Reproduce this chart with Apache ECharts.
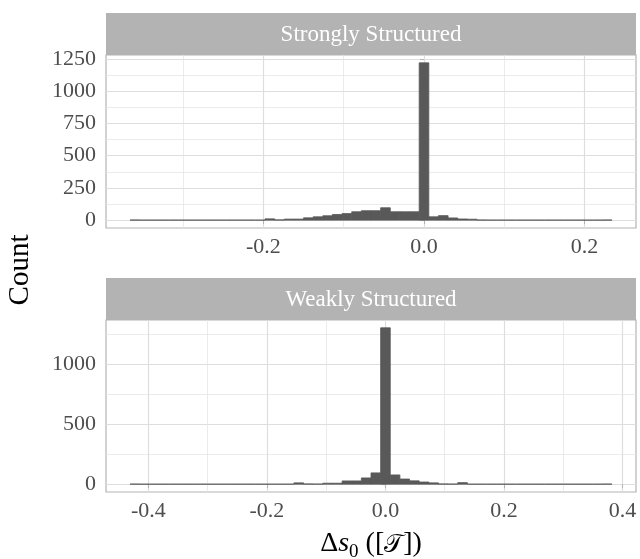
<!DOCTYPE html>
<html><head><meta charset="utf-8">
<script src="https://cdn.jsdelivr.net/npm/echarts@6/dist/echarts.min.js"></script>
<style>html,body{margin:0;padding:0;background:#fff;}#c{width:640px;height:559px;}</style>
</head><body><div id="c"></div>
<script>
// ---- data ----
const panelTitles = ['Strongly Structured', 'Weakly Structured'];
const yTitle = 'Count';

// Strongly structured: histogram bins (first bin centre, bin width, counts)
const strongFirstBin = -0.360;
const strongBinWidth = 0.0120;
const strongCounts = [1, 0,0,0,0,0,0,0,0,0,0,0,0,0,
  10,2,8,8,18,26,34,44,51,65,73,73,96,65,65,65,1219,26,35,17,9,7,1,
  0,0,0,0,0,0,0,0,0,0,0,0, 1];
const strongXTicks = [-0.2, 0.0, 0.2];
const strongXMinor = [-0.3, -0.1, 0.1];
const strongYTicks = [0, 250, 500, 750, 1000, 1250];
const strongYMinor = [125, 375, 625, 875, 1125];

// Weakly structured
const weakFirstBin = -0.42276;
const weakBinWidth = 0.01626;
const weakCounts = [1, 0,0,0,0,0,0,0,0,0,0,0,0,0,0,0,0,
  11,2,1,8,8,27,27,52,94,1303,77,43,28,18,11,2,1,13,
  0,0,0,0,0,0,0,0,0,0,0,0,0,0, 1];
const weakXTicks = [-0.4, -0.2, 0.0, 0.2, 0.4];
const weakXMinor = [-0.3, -0.1, 0.1, 0.3];
const weakYTicks = [0, 500, 1000];
const weakYMinor = [250, 750, 1250];

// ---- helpers ----
const FONT = '"Liberation Serif", "DejaVu Serif", serif';
const TICK_FS = 22;
function binData(first, w, counts) { return counts.map((c, i) => [first + i * w, c, w]); }
function xExtent(first, w, n) {
  const lo = first - w / 2, hi = first + (n - 0.5) * w, p = 0.05 * (hi - lo);
  return [lo - p, hi + p];
}
function yExtent(counts) { const m = Math.max(...counts); return [-0.05 * m, 1.05 * m]; }

const L = 106, R = 4, W = 640 - L - R;
const panels = [
  {stripTop: 13, top: 55, height: 173},
  {stripTop: 278, top: 320, height: 172}
];

function xAxes(gi, ext, major, minor) {
  return [
    {type: 'value', gridIndex: gi, min: ext[0], max: ext[1], position: 'bottom',
     axisLine: {show: false},
     axisTick: {show: true, customValues: major, length: 4, lineStyle: {color: '#b3b3b3', width: 1}},
     axisLabel: {customValues: major, formatter: v => v.toFixed(1), color: '#4d4d4d', fontFamily: FONT, fontSize: TICK_FS, margin: 8},
     splitLine: {show: true, lineStyle: {color: '#dedede', width: 1.2}}},
    {type: 'value', gridIndex: gi, min: ext[0], max: ext[1], position: 'top',
     axisLine: {show: false}, axisTick: {show: false, customValues: minor},
     axisLabel: {show: false, customValues: minor},
     splitLine: {show: true, lineStyle: {color: '#e6e6e6', width: 0.8}}}
  ];
}
function yAxes(gi, ext, major, minor) {
  return [
    {type: 'value', gridIndex: gi, min: ext[0], max: ext[1], position: 'left',
     axisLine: {show: false},
     axisTick: {show: true, customValues: major, length: 4, lineStyle: {color: '#b3b3b3', width: 1}},
     axisLabel: {customValues: major, formatter: v => String(v), color: '#4d4d4d', fontFamily: FONT, fontSize: TICK_FS, margin: 10},
     splitLine: {show: true, lineStyle: {color: '#dedede', width: 1.2}}},
    {type: 'value', gridIndex: gi, min: ext[0], max: ext[1], position: 'right',
     axisLine: {show: false}, axisTick: {show: false, customValues: minor},
     axisLabel: {show: false, customValues: minor},
     splitLine: {show: true, lineStyle: {color: '#e6e6e6', width: 0.8}}}
  ];
}
function renderBar(params, api) {
  const x = api.value(0), c = api.value(1), w = api.value(2);
  const a = api.coord([x - w / 2, 0]), b = api.coord([x + w / 2, c]);
  return {type: 'rect', shape: {x: a[0], y: b[1], width: b[0] - a[0], height: a[1] - b[1]},
    style: {fill: '#595959', stroke: '#595959', lineWidth: 0.8}};
}

const strongX = xExtent(strongFirstBin, strongBinWidth, strongCounts.length);
const weakX = xExtent(weakFirstBin, weakBinWidth, weakCounts.length);

const graphic = [];
panels.forEach((p, i) => {
  graphic.push({type: 'rect', shape: {x: L, y: p.stripTop, width: W, height: p.top - p.stripTop}, style: {fill: '#b3b3b3'}, silent: true});
  graphic.push({type: 'text', x: L + W / 2, y: (p.stripTop + p.top) / 2 + 1,
    style: {text: panelTitles[i], fill: '#ffffff', fontFamily: FONT, fontSize: 23, align: 'center', verticalAlign: 'middle'}});
});
graphic.push({type: 'text', x: 20, y: 270, rotation: Math.PI / 2,
  style: {text: yTitle, fill: '#000', fontFamily: FONT, fontSize: 29, align: 'center', verticalAlign: 'middle'}});
graphic.push({type: 'text', x: L + W / 2, y: 542,
  style: {
    text: '{n|Δ}{i|s}{sub|0}{n| ([}{c|𝒯}{n|])}',
    align: 'center', verticalAlign: 'middle',
    rich: {
      n: {fontFamily: FONT, fontSize: 28, fill: '#000', verticalAlign: 'bottom', lineHeight: 32},
      i: {fontFamily: FONT, fontSize: 28, fontStyle: 'italic', fill: '#000', verticalAlign: 'bottom', lineHeight: 32},
      sub: {fontFamily: FONT, fontSize: 19, fill: '#000', verticalAlign: 'bottom', lineHeight: 32, padding: [0, 0, -4, 0]},
      c: {fontFamily: '"DejaVu Sans", "Noto Sans", serif', fontSize: 25, fill: '#000', verticalAlign: 'bottom', lineHeight: 32}
    }
  }});

const option = {
  animation: false,
  backgroundColor: '#ffffff',
  grid: panels.map(p => ({left: L, width: W, top: p.top, height: p.height, show: true,
    borderColor: '#b3b3b3', borderWidth: 1.2, backgroundColor: 'transparent', containLabel: false})),
  xAxis: [...xAxes(0, strongX, strongXTicks, strongXMinor), ...xAxes(1, weakX, weakXTicks, weakXMinor)],
  yAxis: [...yAxes(0, yExtent(strongCounts), strongYTicks, strongYMinor), ...yAxes(1, yExtent(weakCounts), weakYTicks, weakYMinor)],
  series: [
    {type: 'custom', xAxisIndex: 0, yAxisIndex: 0, data: binData(strongFirstBin, strongBinWidth, strongCounts),
     encode: {x: 0, y: 1}, renderItem: renderBar, clip: true},
    {type: 'custom', xAxisIndex: 2, yAxisIndex: 2, data: binData(weakFirstBin, weakBinWidth, weakCounts),
     encode: {x: 0, y: 1}, renderItem: renderBar, clip: true}
  ],
  graphic: graphic
};
const chart = echarts.init(document.getElementById('c'));
chart.setOption(option);
</script></body></html>
